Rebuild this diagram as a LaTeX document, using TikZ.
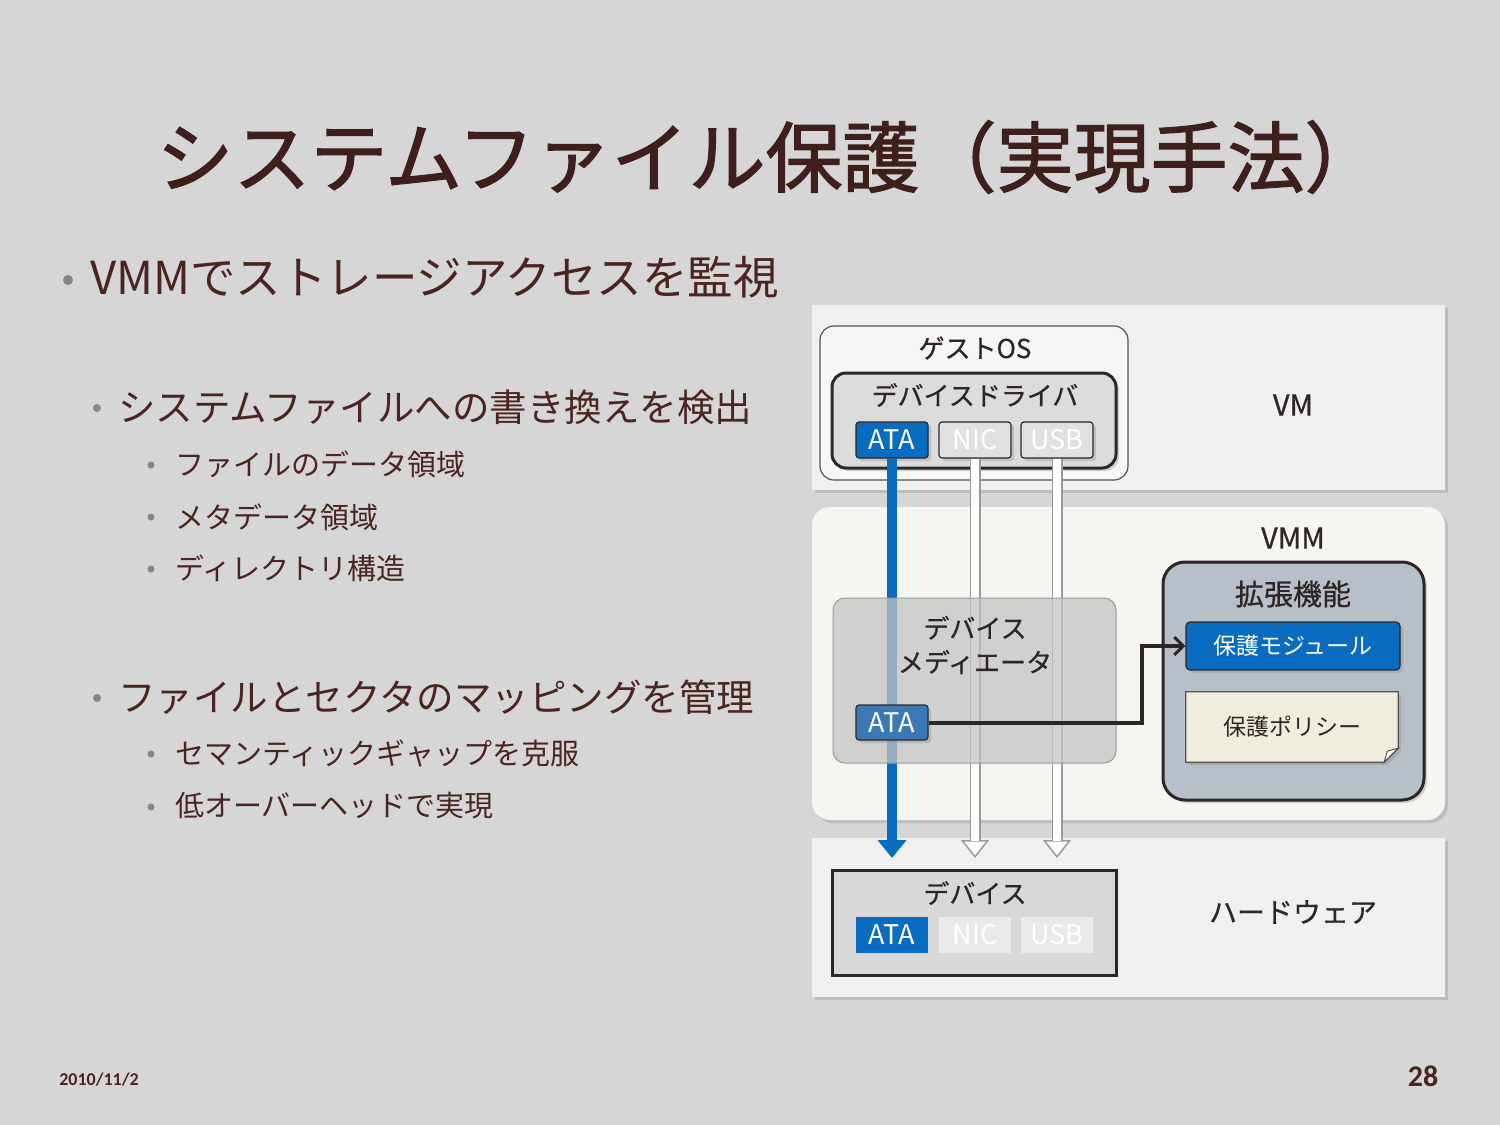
\documentclass[tikz,border=0pt]{standalone}
\usepackage{fontspec}
\setmainfont{Noto Sans CJK JP}
\newfontfamily\footfont{Carlito}
\newfontfamily\heavyfont[FakeBold=1.6]{Noto Sans CJK JP}
\newfontfamily\medfont[FakeBold=0.6]{Noto Sans CJK JP}
\usetikzlibrary{arrows.meta,positioning,shadows,calc}

\definecolor{bgslide}{HTML}{D6D6D6}
\definecolor{titlebrown}{HTML}{3E1F1B}
\definecolor{txtbrown}{HTML}{4A2420}
\definecolor{dotgray}{HTML}{8A8585}
\definecolor{panelgray}{HTML}{F0F0F0}
\definecolor{vmmpanel}{HTML}{F5F5F2}
\definecolor{chipblue}{HTML}{0A6CC0}
\definecolor{chipgray}{HTML}{E0E0E0}
\definecolor{drvgray}{HTML}{DCDCDC}
\definecolor{linkdark}{HTML}{2E2626}
\definecolor{linkgray}{HTML}{9A9A9A}
\definecolor{extgray}{HTML}{B7C0C8}
\definecolor{policycream}{HTML}{F1EDDC}
\definecolor{medblue}{HTML}{3B78B4}
\definecolor{medgray}{HTML}{C4C4C4}
\definecolor{devgray}{HTML}{D8D8D8}

\tikzset{
  softshadow/.style={drop shadow={shadow xshift=3pt, shadow yshift=-3pt, opacity=0.3}},
  panel/.style={fill=panelgray, inner sep=0pt, minimum width=633pt, softshadow},
  titletext/.style={text=titlebrown, inner sep=0pt, font=\heavyfont\fontsize{77pt}{82pt}\selectfont},
  lvlone/.style={text=txtbrown, inner sep=0pt, anchor=west, font=\fontsize{45.5pt}{50pt}\selectfont},
  lvltwo/.style={text=txtbrown, inner sep=0pt, anchor=west, font=\fontsize{37.5pt}{42pt}\selectfont},
  lvlthree/.style={text=txtbrown, inner sep=0pt, anchor=west, font=\fontsize{29pt}{33pt}\selectfont},
  difflabel/.style={text=linkdark, inner sep=0pt, font=\medfont\fontsize{26pt}{34pt}\selectfont},
  biglabel/.style={text=linkdark, inner sep=0pt, font=\medfont\fontsize{29pt}{33pt}\selectfont},
  chip/.style={draw=linkdark, line width=1.2pt, rounded corners=3pt, minimum width=72pt,
    minimum height=36pt, inner sep=0pt, text=white, font=\fontsize{27pt}{30pt}\selectfont, softshadow},
  flatchip/.style={minimum width=72pt, minimum height=36pt, inner sep=0pt, text=white,
    font=\fontsize{27pt}{30pt}\selectfont},
  bluelink/.style={line width=10pt, draw=chipblue, -{Triangle[width=28pt,length=18pt]}},
  hollowout/.style={line width=11pt, draw=linkgray, -{Triangle[width=28pt,length=18pt,line width=1.5pt,fill=white]}},
  hollowin/.style={line width=7.5pt, draw=white, shorten >=17pt},
  linkarrow/.style={line width=4pt, draw=linkdark, -{Straight Barb[length=9pt,width=18pt,line width=3pt]}}
}

\begin{document}
\begin{tikzpicture}[x=1pt,y=-1pt]
  \fill[bgslide] (0,0) rectangle (1500,1125);
  \useasboundingbox (0,0) rectangle (1500,1125);

  % title and bullets
  \node[titletext] (title) at (769,157) {システムファイル保護（実現手法）};

  \fill[dotgray] (68,280) circle (5);
  \node[lvlone] (watch) at (90,277) {VMMでストレージアクセスを監視};
  \fill[dotgray] (97,408) circle (4);
  \node[lvltwo] (detect) at (118,407) {システムファイルへの書き換えを検出};
  \fill[dotgray] (151,465) circle (3.5);
  \node[lvlthree] (datarea) at (175,464) {ファイルのデータ領域};
  \fill[dotgray] (151,517) circle (3.5);
  \node[lvlthree] (metaarea) at (175,517) {メタデータ領域};
  \fill[dotgray] (151,569) circle (3.5);
  \node[lvlthree] (dirtree) at (175,568) {ディレクトリ構造};
  \fill[dotgray] (97,698) circle (4);
  \node[lvltwo] (mapping) at (118,697) {ファイルとセクタのマッピングを管理};
  \fill[dotgray] (151,754) circle (3.5);
  \node[lvlthree] (semgap) at (175,753) {セマンティックギャップを克服};
  \fill[dotgray] (151,807) circle (3.5);
  \node[lvlthree] (lowover) at (175,806) {低オーバーヘッドで実現};

  % footer
  \node[text=txtbrown, inner sep=0pt, font=\footfont\bfseries\fontsize{18pt}{20pt}\selectfont] (date) at (99,1080) {2010/11/2};
  \node[text=txtbrown, inner sep=0pt, font=\footfont\bfseries\fontsize{30pt}{32pt}\selectfont] (page) at (1423,1076) {28};

  % layers
  \node[panel, minimum height=185pt] (vmpanel) at (1128.5,397.5) {};
  \node[panel, fill=vmmpanel, rounded corners=18pt, minimum height=313pt] (vmmpanel) at (1128.5,663.5) {};
  \node[panel, minimum height=159pt] (hwpanel) at (1128.5,917.5) {};

  % guest OS
  \node[draw=linkdark!80, line width=1.2pt, fill=panelgray!60!white, rounded corners=14pt,
    minimum width=308pt, minimum height=154pt, inner sep=0pt] (guestos) at (974,403) {};
  \node[difflabel] (guestlbl) at (975,348) {ゲストOS};
  \node[draw=linkdark, line width=3pt, fill=drvgray, rounded corners=14pt,
    minimum width=284pt, minimum height=95pt, inner sep=0pt, softshadow] (driver) at (974,420.5) {};
  \node[difflabel] (drvlbl) at (975,395) {デバイスドライバ};
  \node[chip, fill=chipblue] (ata) at (892,440) {ATA};
  \node[chip, fill=chipgray] (nic) at (975,440) {NIC};
  \node[chip, fill=chipgray] (usb) at (1057,440) {USB};
  \node[biglabel] (vmlbl) at (1293,405) {VM};

  % links down to the devices
  \coordinate (ataend) at (892,858);
  \coordinate (nicend) at (975,858);
  \coordinate (usbend) at (1057,858);
  \draw[bluelink] (ata.south) -- (ataend);
  \draw[hollowout] (nic.south) -- (nicend);
  \draw[hollowin] (nic.south) -- (nicend);
  \draw[hollowout] (usb.south) -- (usbend);
  \draw[hollowin] (usb.south) -- (usbend);

  % VMM
  \node[biglabel] (vmmlbl) at (1293,538) {VMM};
  \node[draw=linkgray, line width=1pt, fill=medgray, fill opacity=0.75, rounded corners=12pt,
    minimum width=283pt, minimum height=165pt, inner sep=0pt] (mediator) at (974.5,680.5) {};
  \node[difflabel, align=center] (medlbl) at (975,645) {デバイス\\メディエータ};
  \node[chip, fill=medblue, minimum height=35pt] (medata) at (892,722.5) {ATA};

  \node[draw=linkdark, line width=3pt, fill=extgray, rounded corners=22pt,
    minimum width=261pt, minimum height=238pt, inner sep=0pt, softshadow] (extension) at (1293.5,681) {};
  \node[biglabel] (extlbl) at (1293,594) {拡張機能};
  \node[chip, fill=chipblue, rounded corners=4pt, minimum width=214pt, minimum height=48pt,
    font=\fontsize{23pt}{26pt}\selectfont] (module) at (1293,646) {保護モジュール};
  \node[minimum width=212pt, minimum height=70pt, inner sep=0pt] (policy) at (1292,727) {};
  \filldraw[draw=linkdark!80, line width=1.2pt, fill=policycream, softshadow]
    (policy.north west) -- (policy.north east) -- ($(policy.south east)+(0,-14)$)
    -- ($(policy.south east)+(-14,0)$) -- (policy.south west) -- cycle;
  \filldraw[draw=linkdark!80, line width=1pt, fill=white]
    ($(policy.south east)+(0,-14)$) -- ($(policy.south east)+(-14,0)$)
    -- ($(policy.south east)+(-11,-11)$) -- cycle;
  \node[text=linkdark, inner sep=0pt, font=\fontsize{23pt}{26pt}\selectfont] (policylbl) at (policy.center) {保護ポリシー};

  \coordinate (linkturn) at (1142,646);
  \draw[linkarrow] (medata.east) -| (linkturn) -- (module.west);

  % hardware
  \node[draw=linkdark, line width=3pt, fill=devgray, minimum width=284pt, minimum height=105pt,
    inner sep=0pt] (device) at (974,922.5) {};
  \node[difflabel] (devlbl) at (975,893) {デバイス};
  \node[flatchip, fill=chipblue] (hwata) at (892,935) {ATA};
  \node[flatchip, fill=chipgray!70!white] (hwnic) at (975,935) {NIC};
  \node[flatchip, fill=chipgray!70!white] (hwusb) at (1057,935) {USB};
  \node[text=linkdark, inner sep=0pt, font=\medfont\fontsize{28pt}{32pt}\selectfont] (hwlbl) at (1293,912) {ハードウェア};
\end{tikzpicture}
\end{document}
